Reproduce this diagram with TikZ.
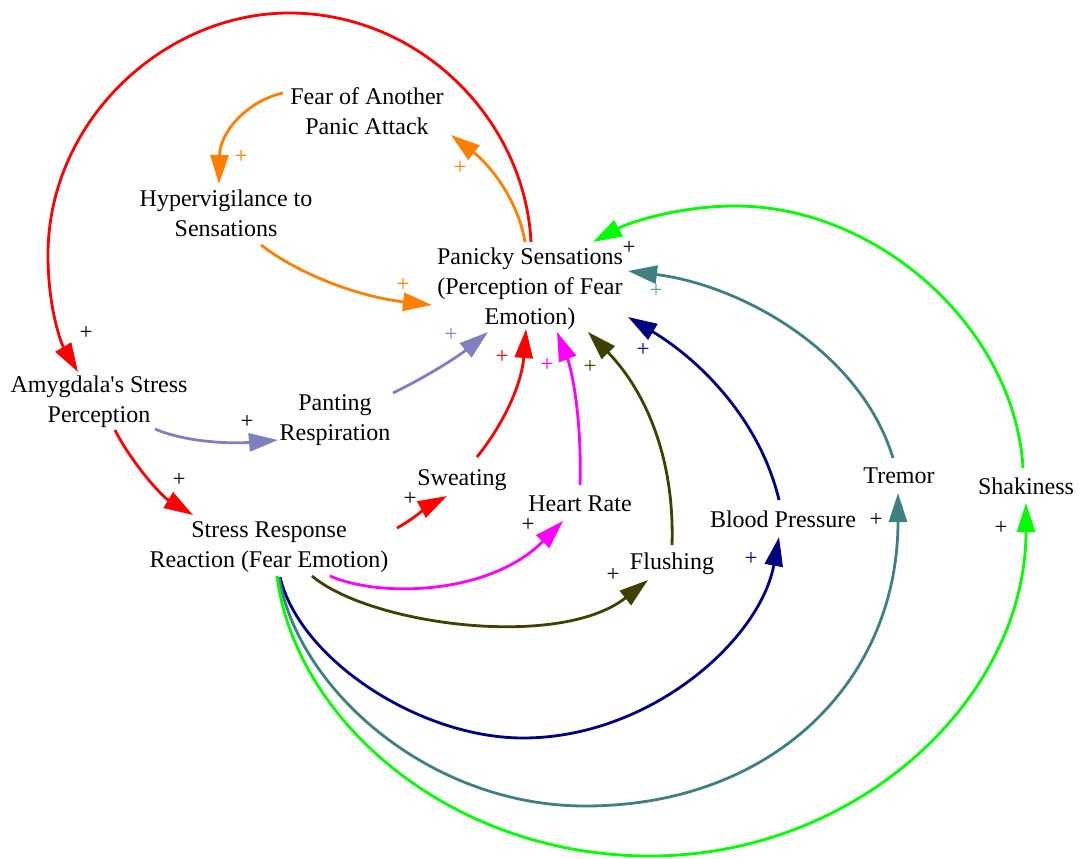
\documentclass[tikz,border=0pt]{standalone}
\usepackage{fontspec}
\setmainfont{Liberation Serif}
\usetikzlibrary{arrows.meta,calc}
\definecolor{corange}{HTML}{FF8000}
\definecolor{cred}{HTML}{FF0000}
\definecolor{clblue}{HTML}{8080C0}
\definecolor{cmag}{HTML}{FF00FF}
\definecolor{colive}{HTML}{404000}
\definecolor{cnavy}{HTML}{000080}
\definecolor{cteal}{HTML}{408080}
\definecolor{cteallt}{HTML}{60A0A0}
\definecolor{cgreen}{HTML}{00FF00}
\begin{document}
\begin{tikzpicture}[x=1pt,y=-1pt,
  lab/.style={font=\fontsize{24}{30}\selectfont, align=center, inner sep=0pt},
  pl/.style={font=\fontsize{23}{26}\selectfont, inner sep=0pt},
  arr/.style={line width=2.8pt, -{Triangle[length=29pt,width=18pt]}},
]
\useasboundingbox[fill=white] (0,0) rectangle (1079,859);

% nodes
\node[lab] (fear)   at (367,113) {Fear of Another\strut\\Panic Attack\strut};
\node[lab] (hyper)  at (226,215) {Hypervigilance to\strut\\Sensations\strut};
\node[lab] (panic)  at (530,288) {Panicky Sensations\strut\\(Perception of Fear\strut\\Emotion)\strut};
\node[lab] (amyg)   at (99,401)  {Amygdala\textquotesingle s Stress\strut\\Perception\strut};
\node[lab] (pant)   at (335,419) {Panting\strut\\Respiration\strut};
\node[lab] (stress) at (269,546) {Stress Response\strut\\Reaction (Fear Emotion)\strut};
\node[lab] (sweat)  at (462,479) {Sweating\strut};
\node[lab] (heart)  at (580,505) {Heart Rate\strut};
\node[lab] (flush)  at (672,563) {Flushing\strut};
\node[lab] (bp)     at (783,521) {Blood Pressure\strut};
\node[lab] (tremor) at (899,477) {Tremor\strut};
\node[lab] (shake)  at (1026,488) {Shakiness\strut};

% connectors
\draw[arr, corange] ($(fear)+(-84,-20)$) .. controls (250,100) and (220,130) .. ($(hyper)+(-7,-31)$);
\draw[arr, corange] ($(panic)+(-5,-46)$) .. controls (518,200) and (490,165) .. ($(fear)+(84,22)$);
\draw[arr, cred] ($(panic)+(1,-46)$) .. controls (525,120) and (420,13) .. (289,13)
   .. controls (165,13) and (48,120) .. (48,255)
   .. controls (48,310) and (62,345) .. ($(amyg)+(-21,-29)$);
\draw[arr, corange] ($(hyper)+(35,30)$) .. controls (300,275) and (360,297) .. ($(panic)+(-98,17)$);
\draw[arr, cred] ($(amyg)+(16,29)$) .. controls (130,460) and (160,495) .. ($(stress)+(-76,-31)$);
\draw[arr, clblue] ($(amyg)+(56,28)$) .. controls (185,442) and (230,444) .. ($(pant)+(-57,21)$);
\draw[arr, clblue] ($(pant)+(58,-26)$) .. controls (430,375) and (460,355) .. ($(panic)+(-42,44)$);
\draw[arr, cred] ($(sweat)+(15,-22)$) .. controls (508,418) and (522,380) .. ($(panic)+(-4,41)$);
\draw[arr, cmag] ($(heart)+(0,-20)$) .. controls (582,420) and (572,370) .. ($(panic)+(27,44)$);
\draw[arr, colive] ($(flush)+(0,-18)$) .. controls (675,450) and (640,385) .. ($(panic)+(58,44)$);
\draw[arr, cnavy] ($(bp)+(-4,-21)$) .. controls (760,420) and (700,360) .. ($(panic)+(98,29)$);
\draw[arr, cteal] ($(tremor)+(-6,-19)$) .. controls (860,350) and (740,285) .. ($(panic)+(98,-17)$);
\draw[arr, cgreen] ($(shake)+(-3,-20)$) .. controls (1015,330) and (880,206) .. (735,206)
   .. controls (680,206) and (630,222) .. ($(panic)+(63,-46)$);
\draw[arr, cred] ($(stress)+(128,-18)$) .. controls (415,518) and (430,505) .. ($(sweat)+(-15,17)$);
\draw[arr, cmag] ($(stress)+(61,30)$) .. controls (380,598) and (490,595) .. ($(heart)+(-17,16)$);
\draw[arr, colive] ($(stress)+(43,30)$) .. controls (370,625) and (560,650) .. ($(flush)+(-24,17)$);
\draw[arr, cnavy] ($(stress)+(11,31)$) .. controls (300,660) and (420,738) .. (523,738)
   .. controls (650,738) and (760,640) .. ($(bp)+(-4,16)$);
\draw[arr, cteal] ($(stress)+(10,31)$) .. controls (298,690) and (430,806) .. (585,806)
   .. controls (773,806) and (898,681) .. ($(tremor)+(-1,16)$);
\draw[arr, cgreen] ($(stress)+(8,30)$) .. controls (295,720) and (450,856) .. (650,856)
   .. controls (858,856) and (1026,698) .. ($(shake)+(0,15)$);

% polarity labels
\node[pl, corange] (l1)  at (241,157) {+};
\node[pl, corange] (l2)  at (460,168) {+};
\node[pl]          (l3)  at (86,333)  {+};
\node[pl, corange] (l4)  at (403,285) {+};
\node[pl]          (l5)  at (179,480) {+};
\node[pl]          (l6)  at (247,422) {+};
\node[pl, clblue]  (l7)  at (451,335) {+};
\node[pl, cred]    (l8)  at (502,357) {+};
\node[pl, cmag]    (l9)  at (547,365) {+};
\node[pl, colive]  (l10) at (590,367) {+};
\node[pl, cnavy]   (l11) at (643,350) {+};
\node[pl, cteallt] (l12) at (656,291) {+};
\node[pl]          (l13) at (629,248) {+};
\node[pl]          (l14) at (410,499) {+};
\node[pl]          (l15) at (528,525) {+};
\node[pl]          (l16) at (613,575) {+};
\node[pl, cnavy]   (l17) at (751,559) {+};
\node[pl]          (l18) at (876,520) {+};
\node[pl]          (l19) at (1001,528) {+};
\end{tikzpicture}
\end{document}
